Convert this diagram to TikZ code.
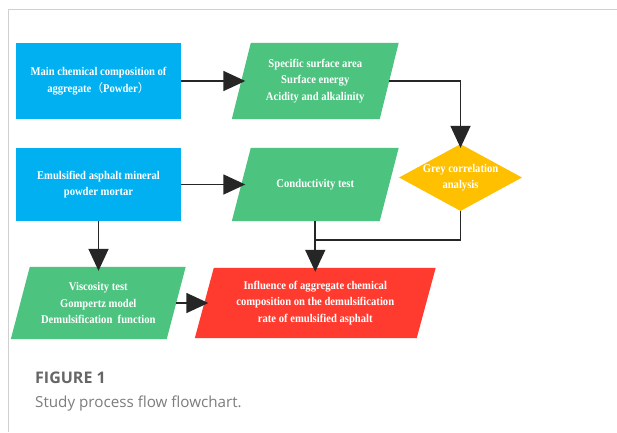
\documentclass[tikz,border=0pt]{standalone}
\usepackage{fontspec}
\setmainfont{Liberation Serif}
\newfontfamily\boxfont[FakeStretch=0.9]{Liberation Serif}
\newfontfamily\cjk{Noto Sans CJK SC}
\newfontfamily\capfont{Open Sans}
\usetikzlibrary{arrows.meta,shapes.geometric}
\definecolor{cblue}{HTML}{00B0F0}
\definecolor{cgreen}{HTML}{4CC47F}
\definecolor{cyellow}{HTML}{FFC000}
\definecolor{cred}{HTML}{FF3B30}
\definecolor{cline}{HTML}{262626}
\definecolor{cframe}{HTML}{D0D0D0}
\definecolor{ccap}{HTML}{666666}
\tikzset{
  box/.style={fill=cblue, rectangle, inner sep=0pt, text=white, font=\boxfont\bfseries\fontsize{11.8}{16.5}\selectfont, align=center},
  mid/.style={rectangle, inner sep=0pt, text=white, font=\boxfont\bfseries\fontsize{11.8}{16.5}\selectfont, align=center},
  conn/.style={draw=cline, line width=1.6pt, shorten >=-4pt, -{Triangle[length=22pt,width=20pt]}},
  plain/.style={draw=cline, line width=1.6pt},
}
\newcommand{\para}[3]{% node, offset, colour
  \fill[#3] ([xshift=#2]#1.north west) -- ([xshift=#2]#1.north east) -- ([xshift=-#2]#1.south east) -- ([xshift=-#2]#1.south west) -- cycle;}
\begin{document}
\begin{tikzpicture}[x=1pt,y=-1pt]
\useasboundingbox (0,0) rectangle (617,432);
\fill[white] (0,0) rectangle (617,432);
% frame
\draw[cframe, line width=1pt] (617,9.5) -- (8,9.5) -- (8,432);

% nodes (invisible geometry first)
\node[box, minimum width=165pt, minimum height=76pt] (b1) at (98.5,81) {Main chemical composition of\\aggregate{\cjk\mdseries （}Powder{\cjk\mdseries ）}};
\node[mid, minimum width=147.5pt, minimum height=76pt] (g1) at (315.25,81) {};
\node[box, minimum width=165pt, minimum height=73pt] (b2) at (98.5,184.5) {Emulsified asphalt mineral\\powder mortar};
\node[mid, minimum width=147.5pt, minimum height=73pt] (g2) at (315.25,184.5) {};
\node[mid, minimum width=155.5pt, minimum height=72pt] (g3) at (98.25,303) {};
\node[mid, minimum width=221.5pt, minimum height=70pt] (r) at (315.25,303) {};
\node[diamond, fill=cyellow, inner sep=0pt, minimum width=123pt, minimum height=67pt] (dia) at (460.5,177.5) {};

\para{g1}{9.5pt}{cgreen}
\para{g2}{9.5pt}{cgreen}
\para{g3}{9.5pt}{cgreen}
\para{r}{9.5pt}{cred}

\node[mid] (g1t) at (g1.center) {Specific surface area\\Surface energy\\Acidity and alkalinity};
\node[mid] (g2t) at (g2.center) {Conductivity test};
\node[mid] (g3t) at (g3.center) {Viscosity test\\Gompertz model\\Demulsification\ \ function};
\node[mid] (rt) at (r.center) {Influence of aggregate chemical\\composition on the demulsification\\rate of emulsified asphalt};
\node[mid] (diat) at (dia.center) {Grey correlation\\analysis};

% connectors
\coordinate (j) at (315.25,240);
\draw[conn] (b1.east) -- (g1.west);
\draw[conn] (b2.east) -- (g2.west);
\draw[conn] (g1.east) -| (dia.north);
\draw[conn] (b2.south) -- (b2.south |- g3.north);
\draw[plain] (dia.south) |- (j);
\draw[conn] (g2.south) -- (r.north);
\draw[conn] (g3.east) -- (r.west);

% caption
\node[anchor=base west, inner sep=0pt, text=ccap, font=\capfont\bfseries\fontsize{16}{18}\selectfont] (cap1) at (35,383) {FIGURE 1};
\node[anchor=base west, inner sep=0pt, text=ccap!85, font=\capfont\fontsize{15.2}{18}\selectfont] (cap2) at (35,407) {Study process flow flowchart.};
\end{tikzpicture}
\end{document}
